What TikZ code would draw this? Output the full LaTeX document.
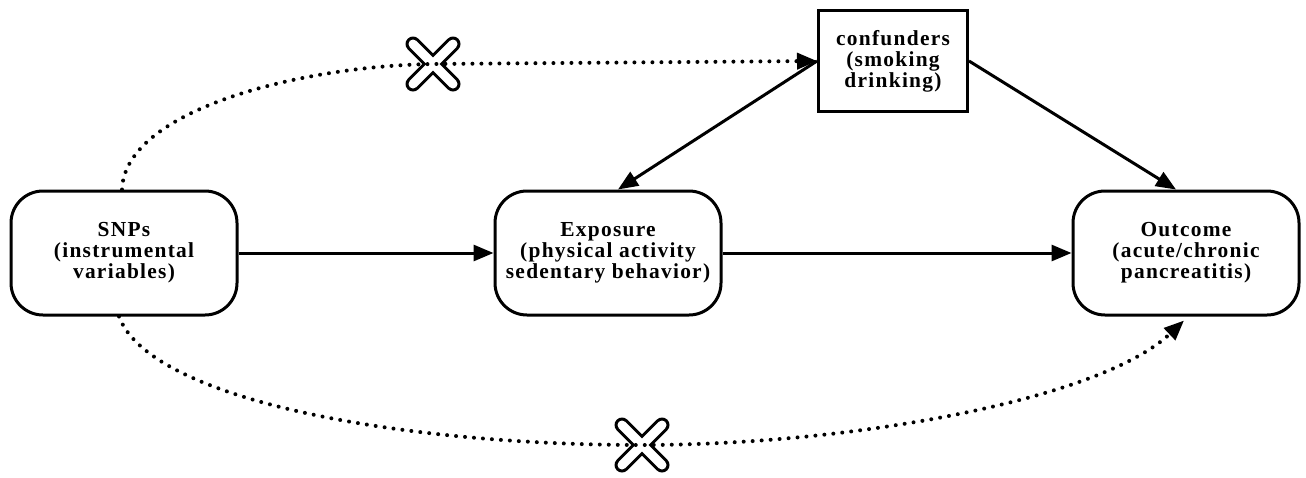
\documentclass[tikz,border=0pt]{standalone}
\usepackage{fontspec}
\setmainfont{Liberation Serif}[LetterSpace=6]
\usetikzlibrary{arrows.meta}

\tikzset{
  boxtext/.style={align=center, font=\bfseries\fontsize{10.7}{10.5}\selectfont, inner sep=0pt},
  roundbox/.style={boxtext, draw, line width=1.5pt, rounded corners=16pt,
    minimum width=113pt, minimum height=62pt},
  squarebox/.style={boxtext, draw, line width=1.5pt,
    minimum width=74.5pt, minimum height=50.5pt},
  causal/.style={line width=1.5pt, -{Triangle[length=10pt,width=8pt]}},
  dotpath/.style={line width=2pt, line cap=round, dash pattern=on 0pt off 4.5pt,
    -{Triangle[length=10pt,width=8pt]}},
}
% crossed-out mark drawn as an outlined X
\newcommand{\crossout}[1]{%
  \draw[line width=7.5pt, line cap=round]
    ([shift={(-20,-20)}]#1) -- ([shift={(20,20)}]#1)
    ([shift={(-20,20)}]#1) -- ([shift={(20,-20)}]#1);
  \draw[white, line width=4.5pt, line cap=round]
    ([shift={(-20,-20)}]#1) -- ([shift={(20,20)}]#1)
    ([shift={(-20,20)}]#1) -- ([shift={(20,-20)}]#1);
}

\begin{document}
\begin{tikzpicture}[x=0.5pt,y=-0.5pt]
    \useasboundingbox (0,0) rectangle (1306,477);
    % Draw the boxes
    \node[roundbox] (snps) at (124,253) {SNPs\\(instrumental\\variables)};
    \node[roundbox] (expo) at (608,253) {Exposure\\(physical activity\\sedentary behavior)};
    \node[roundbox] (outc) at (1186,253) {Outcome\\(acute/chronic\\pancreatitis)};
    \node[squarebox] (conf) at (893,61) {confunders\\(smoking\\drinking)};
    % Points where the blocked paths are crossed out
    \coordinate (cross1) at (433,64);
    \coordinate (cross2) at (642,445);
    \crossout{cross1}
    \crossout{cross2}
    % Draw the direct arrows
    \draw[causal] (snps) -- (expo);
    \draw[causal] (expo) -- (outc);
    \draw[causal] (conf.west) -- ([xshift=5pt]expo.north);
    \draw[causal] (conf.east) -- ([xshift=-5pt]outc.north);
    % Draw the dotted paths
    \draw[dotpath] ([xshift=-1pt]snps.north) .. controls (125,110) and (300,66) .. (cross1) -- (conf.west);
    \draw[dotpath] ([xshift=-2.5pt]snps.south) .. controls (150,400) and (400,445) .. (cross2)
        .. controls (850,445) and (1100,400) .. ([shift={(-1pt,-2pt)}]outc.south);
\end{tikzpicture}
\end{document}
